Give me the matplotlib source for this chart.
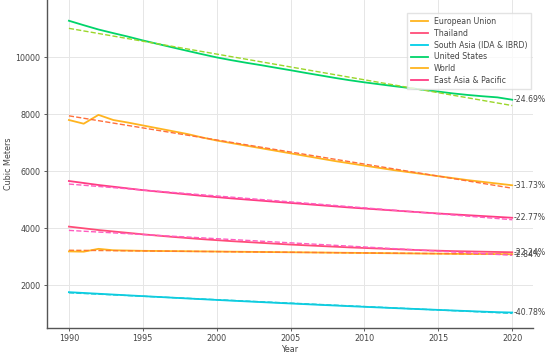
import matplotlib
matplotlib.use("Agg")
import matplotlib.pyplot as plt
import numpy as np

# 年份
years = list(range(1990, 2021))

# 人均可再生淡水资源 (cubic meters)
eu = [3180, 3170, 3270, 3220, 3210, 3200, 3195, 3190, 3185, 3180, 3175,
      3170, 3165, 3160, 3155, 3150, 3145, 3140, 3135, 3130, 3125,
      3120, 3115, 3110, 3105, 3100, 3095, 3090, 3090, 3085, 3080]
thailand = [4050, 3990, 3930, 3880, 3830, 3780, 3735, 3690, 3650, 3610, 3575,
            3540, 3510, 3480, 3450, 3420, 3395, 3370, 3345, 3320, 3300,
            3280, 3260, 3240, 3220, 3205, 3190, 3180, 3170, 3160, 3150]
south_asia = [1750, 1722, 1694, 1666, 1638, 1611, 1584, 1557, 1530, 1504, 1478,
              1452, 1427, 1402, 1377, 1353, 1329, 1305, 1282, 1259, 1236,
              1214, 1192, 1170, 1149, 1128, 1107, 1087, 1067, 1048, 1036]
us = [11272, 11116, 10965, 10838, 10715, 10582, 10460, 10338, 10218, 10100, 9986,
      9888, 9798, 9714, 9624, 9536, 9444, 9356, 9267, 9185, 9111,
      9044, 8977, 8915, 8851, 8787, 8722, 8668, 8623, 8584, 8501]
world = [7790, 7660, 7970, 7790, 7700, 7600, 7500, 7400, 7300, 7180, 7070,
         6980, 6890, 6800, 6710, 6620, 6530, 6440, 6350, 6270, 6190,
         6110, 6030, 5960, 5890, 5820, 5750, 5680, 5620, 5560, 5500]
eap = [5650, 5580, 5510, 5450, 5390, 5330, 5280, 5230, 5180, 5130, 5085,
       5040, 5000, 4960, 4920, 4880, 4840, 4800, 4760, 4720, 4685,
       4650, 4615, 4580, 4545, 4510, 4480, 4450, 4420, 4390, 4360]

names = ["European Union", "Thailand", "South Asia (IDA & IBRD)",
         "United States", "World", "East Asia & Pacific"]
series = [eu, thailand, south_asia, us, world, eap]
changes = ["-2.84%", "-22.24%", "-40.78%", "-24.69%", "-31.73%", "-22.77%"]

colors = ["#FFB41F", "#FF4C78", "#00CFE8", "#00D46A", "#FFB41F", "#FF3D82"]
trend_colors = ["#FF7A2E", "#FF5CC0", "#1BC9D6", "#9BD62A", "#FF6F3A", "#FF5CC0"]

fig = plt.figure(figsize=(5.5, 3.57), dpi=100)
ax = fig.add_axes([0.085, 0.081, 0.884, 0.919])

x = np.array(years)
for name, vals, c, tc, lab in zip(names, series, colors, trend_colors, changes):
    ax.plot(x, vals, color=c, lw=1.3, label=name)
    k, b = np.polyfit(x, vals, 1)
    ax.plot(x, k * x + b, color=tc, lw=1.0, ls="--")
    ax.text(2020.1, vals[-1], lab, fontsize=5.6, color="#444444", va="center", ha="left")

ax.set_xlim(1988.5, 2021.4)
ax.set_ylim(490, 12000)
ax.set_xticks([1990, 1995, 2000, 2005, 2010, 2015, 2020])
ax.set_yticks([2000, 4000, 6000, 8000, 10000])
ax.tick_params(labelsize=5.8, colors="#444444", length=2.5, width=0.6, pad=2)
ax.set_xlabel("Year", fontsize=5.8, color="#444444", labelpad=1)
ax.set_ylabel("Cubic Meters", fontsize=5.8, color="#444444", labelpad=2)
ax.grid(color="#e6e6e6", lw=0.7)
for s in ["top", "right"]:
    ax.spines[s].set_visible(False)
for s in ["left", "bottom"]:
    ax.spines[s].set_color("#555555")
    ax.spines[s].set_linewidth(1.0)

ax.legend(loc="upper right", fontsize=5.6, frameon=True, edgecolor="#dddddd",
          fancybox=False, handlelength=2.2, labelspacing=0.36,
          borderpad=0.5, bbox_to_anchor=(1.005, 0.972), labelcolor="#444444")

fig.savefig("out.png", dpi=100)
